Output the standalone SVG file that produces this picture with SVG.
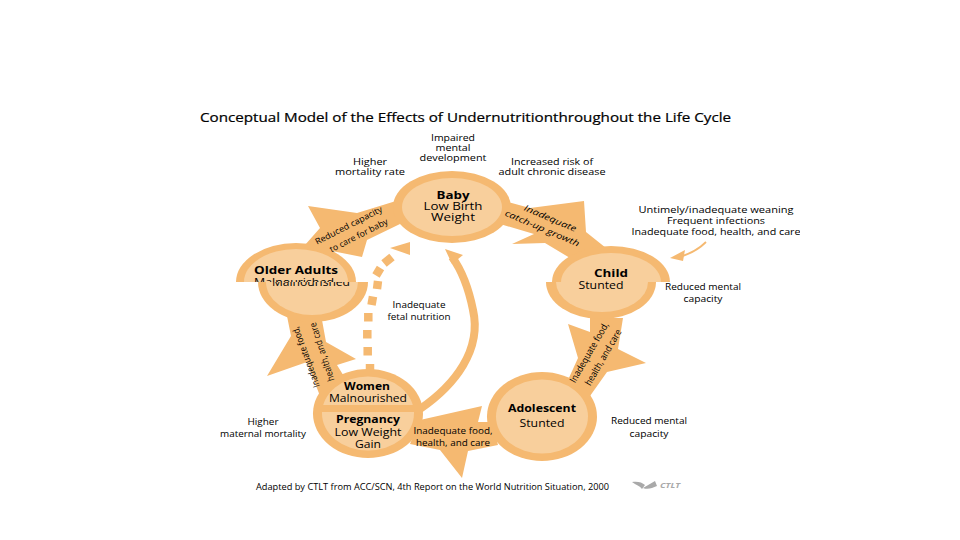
<svg xmlns="http://www.w3.org/2000/svg" width="960" height="540" viewBox="0 0 960 540">
<style>
text{font-family:"Open Sans","Liberation Sans",sans-serif;fill:#000;text-anchor:middle}
.t{font-size:8.800px}.n{font-size:10.500px}.b{font-size:10.500px;font-weight:700}.r{font-size:8.500px}.v{font-size:9.500px}
.o{fill:#f5b971}.l{fill:#f8cf9c}
.s{fill:none;stroke:#f5b971}
</style>
<defs>
<clipPath id="up"><rect x="0" y="0" width="960" height="282"/></clipPath>
<clipPath id="dn"><rect x="0" y="282" width="960" height="258"/></clipPath>
<clipPath id="wt"><rect x="300" y="360" width="140" height="45"/></clipPath>
<clipPath id="wb"><rect x="300" y="412" width="140" height="50"/></clipPath>
<clipPath id="rc"><rect x="197" y="130" width="603" height="152"/></clipPath>
</defs>
<rect width="960" height="540" fill="#fff"/>
<text x="465.500" y="121.500" font-size="11.800" textLength="531" lengthAdjust="spacingAndGlyphs" stroke="#000" stroke-width=".2">Conceptual Model of the Effects of Undernutritionthroughout the Life Cycle</text>
<g id="connectors">
<polygon class="o" points="396,201 357,213 308,206 320,228 305,245 337,252 362,257 367,240 400,224"/>
<polygon class="o" points="508,202 530,208 584,201 586,232 606,248 570,258 545,243 512,244 534,234 500,224"/>
<polygon class="o" points="590,318 623,318 618,349 646,363 607,372 590,396 568,380 578,358 568,324 590,332"/>
<polygon class="o" points="420,420 482,406 478,422 492,422 498,445 468,451 462,478 440,450 410,444"/>
<polygon class="o" points="287,316 322,320 326,342 356,359 337,365 345,378 320,396 307,362 267,376 291,336"/>
<path class="s" stroke-width="8" d="M420,409C455,385 482,350 473,310C469,290 463,272 452,257"/>
<polygon class="o" points="445,249 463,255 452,264"/>
<g class="s" stroke-width="8.500">
<path d="M370,371L370,364"/>
<path d="M367.700,355.500L367.700,347"/>
<path d="M367.300,338.500L367.300,330"/>
<path d="M368.300,321.500L368.300,313"/>
<path d="M371.500,305L373,296.500"/>
<path d="M377,289L378,281"/>
<path d="M376,275.500L380.500,268"/>
<path d="M384,263.500L392,257"/>
</g>
<polygon class="o" points="410,242 390,248 410,255"/>
<path class="s" stroke-width="1.800" d="M706,242C698,250 688,255 676,258"/>
<polygon class="o" points="670,258 685,250 683,261"/>
</g>
<g id="node-baby">
<ellipse class="o" cx="452" cy="207" rx="59" ry="36"/>
<ellipse class="l" cx="452" cy="207" rx="50" ry="29"/>
<text class="b" x="453" y="198.500" textLength="33" lengthAdjust="spacingAndGlyphs">Baby</text>
<text class="n" x="453" y="209.500" textLength="59" lengthAdjust="spacingAndGlyphs">Low Birth</text>
<text class="n" x="453" y="220.500" textLength="44" lengthAdjust="spacingAndGlyphs">Weight</text>
</g>
<g id="node-older-adults">
<g clip-path="url(#up)"><ellipse class="o" cx="296" cy="282" rx="60" ry="39"/><ellipse class="l" cx="296" cy="282" rx="52" ry="33"/>
<text class="b" x="296" y="274" textLength="84" lengthAdjust="spacingAndGlyphs">Older Adults</text>
<text class="n" x="294" y="286" textLength="80" lengthAdjust="spacingAndGlyphs">Malnourished</text></g>
<g clip-path="url(#dn)"><ellipse class="o" cx="313" cy="282" rx="55" ry="40"/><ellipse class="l" cx="312" cy="282" rx="46" ry="33"/>
<text class="n" x="311" y="286" textLength="78" lengthAdjust="spacingAndGlyphs">Malnourished</text></g>
</g>
<g id="node-child">
<g clip-path="url(#up)"><ellipse class="o" cx="611" cy="282" rx="59" ry="36"/><ellipse class="l" cx="611" cy="282" rx="50" ry="29"/>
<text class="b" x="611" y="277" textLength="34" lengthAdjust="spacingAndGlyphs">Child</text></g>
<g clip-path="url(#dn)"><ellipse class="o" cx="601" cy="282" rx="55" ry="37"/><ellipse class="l" cx="602" cy="282" rx="46" ry="30"/></g>
<text class="n" x="601" y="289" textLength="45" lengthAdjust="spacingAndGlyphs">Stunted</text>
</g>
<g id="node-adolescent">
<ellipse class="o" cx="542" cy="416.500" rx="55" ry="44.500"/>
<ellipse class="l" cx="542" cy="416.500" rx="46" ry="37"/>
<text class="b" x="542" y="412" textLength="68" lengthAdjust="spacingAndGlyphs">Adolescent</text>
<text class="n" x="542" y="427" textLength="45" lengthAdjust="spacingAndGlyphs">Stunted</text>
</g>
<g id="node-women">
<ellipse class="o" cx="368" cy="413.500" rx="55" ry="44.500"/>
<ellipse class="l" clip-path="url(#wt)" cx="368" cy="413.500" rx="46" ry="37"/>
<ellipse class="l" clip-path="url(#wb)" cx="368" cy="413.500" rx="46" ry="37"/>
<text class="b" x="367" y="390" textLength="46" lengthAdjust="spacingAndGlyphs">Women</text>
<text class="n" x="368" y="401.500" textLength="78" lengthAdjust="spacingAndGlyphs">Malnourished</text>
<text class="b" x="368" y="423" textLength="64" lengthAdjust="spacingAndGlyphs">Pregnancy</text>
<text class="n" x="368" y="435.500" textLength="67" lengthAdjust="spacingAndGlyphs">Low Weight</text>
<text class="n" x="368" y="447.500" textLength="26" lengthAdjust="spacingAndGlyphs">Gain</text>
</g>
<g id="labels">
<text class="t" x="453" y="141" textLength="44" lengthAdjust="spacingAndGlyphs">Impaired</text>
<text class="t" x="453" y="151" textLength="35" lengthAdjust="spacingAndGlyphs">mental</text>
<text class="t" x="453" y="161" textLength="67" lengthAdjust="spacingAndGlyphs">development</text>
<text class="t" x="370" y="165" textLength="34" lengthAdjust="spacingAndGlyphs">Higher</text>
<text class="t" x="370" y="175" textLength="70" lengthAdjust="spacingAndGlyphs">mortality rate</text>
<text class="t" x="552" y="165" textLength="82" lengthAdjust="spacingAndGlyphs">Increased risk of</text>
<text class="t" x="552" y="175" textLength="107" lengthAdjust="spacingAndGlyphs">adult chronic disease</text>
<g clip-path="url(#rc)">
<text class="t" x="716" y="213" textLength="155" lengthAdjust="spacingAndGlyphs">Untimely/inadequate weaning</text>
<text class="t" x="716" y="223.500" textLength="98" lengthAdjust="spacingAndGlyphs">Frequent infections</text>
<text class="t" x="716" y="234.500" textLength="169" lengthAdjust="spacingAndGlyphs">Inadequate food, health, and care</text>
</g>
<text class="t" x="703" y="290" textLength="76" lengthAdjust="spacingAndGlyphs">Reduced mental</text>
<text class="t" x="703" y="302" textLength="39" lengthAdjust="spacingAndGlyphs">capacity</text>
<text class="t" x="419" y="308" textLength="53" lengthAdjust="spacingAndGlyphs">Inadequate</text>
<text class="t" x="419" y="320" textLength="63" lengthAdjust="spacingAndGlyphs">fetal nutrition</text>
<text class="t" x="263" y="425" textLength="31" lengthAdjust="spacingAndGlyphs">Higher</text>
<text class="t" x="263" y="437" textLength="86" lengthAdjust="spacingAndGlyphs">maternal mortality</text>
<text class="t" x="453" y="434" textLength="79" lengthAdjust="spacingAndGlyphs">Inadequate food,</text>
<text class="t" x="453" y="446" textLength="74" lengthAdjust="spacingAndGlyphs">health, and care</text>
<text class="t" x="649" y="424" textLength="76" lengthAdjust="spacingAndGlyphs">Reduced mental</text>
<text class="t" x="649" y="437" textLength="39" lengthAdjust="spacingAndGlyphs">capacity</text>
<text class="r" transform="translate(350,228) rotate(-27)" textLength="74" lengthAdjust="spacingAndGlyphs">Reduced capacity</text>
<text class="r" transform="translate(360,238) rotate(-27)" textLength="64" lengthAdjust="spacingAndGlyphs">to care for baby</text>
<text class="r" font-style="italic" transform="translate(549,221) rotate(23)" textLength="56" lengthAdjust="spacingAndGlyphs">Inadequate</text>
<text class="r" font-style="italic" transform="translate(541,231) rotate(23)" textLength="80" lengthAdjust="spacingAndGlyphs">catch-up growth</text>
<text class="v" transform="translate(309,356) rotate(-110)" textLength="64" lengthAdjust="spacingAndGlyphs">Inadequate food,</text>
<text class="v" transform="translate(325,351) rotate(-108)" textLength="61" lengthAdjust="spacingAndGlyphs">health, and care</text>
<text class="v" transform="translate(592,354) rotate(-60)" textLength="68" lengthAdjust="spacingAndGlyphs">Inadequate food,</text>
<text class="v" transform="translate(606,359) rotate(-60)" textLength="63" lengthAdjust="spacingAndGlyphs">health, and care</text>
<text x="432.500" y="489.500" font-size="8.800" textLength="353" lengthAdjust="spacingAndGlyphs">Adapted by CTLT from ACC/SCN, 4th Report on the World Nutrition Situation, 2000</text>
</g>
<g id="logo">
<path d="M632,482C637,481 642,482 645,485L642,489C640,486 636,485 632,482ZM643,488C647,486 651,483 655,481L657,486C652,488 648,490 643,488Z" fill="#a9a9a9"/>
<text x="670" y="487.500" font-size="7px" font-weight="700" font-style="italic" textLength="20" lengthAdjust="spacingAndGlyphs" style="fill:#a9a9a9">CTLT</text>
</g>
</svg>
